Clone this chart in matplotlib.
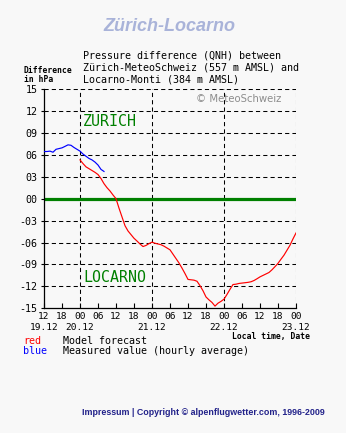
import numpy as np
import matplotlib
matplotlib.use("Agg")
import matplotlib.pyplot as plt
from matplotlib.transforms import blended_transform_factory

# ---- data (hours since 19.12 12:00 local time) ----
blue_hours = list(range(0, 21))
blue_values = [6.45, 6.45, 6.5, 6.35, 6.75, 6.85, 6.95, 7.15, 7.36, 7.3, 7.0,
               6.75, 6.5, 6.1, 5.8, 5.5, 5.3, 5.0, 4.6, 4.0, 3.72]

red_hours = list(range(12, 85))
red_values = [5.3, 4.8, 4.35, 4.1, 3.85, 3.6, 3.3, 2.75, 2.05, 1.5, 1.05, 0.5,
              0.0, -1.3, -2.5, -3.7, -4.42, -4.92, -5.42, -5.8, -6.2, -6.55, -6.4, -6.15,
              -5.95, -6.1, -6.2, -6.3, -6.5, -6.75, -7.0, -7.6, -8.2, -8.8, -9.5, -10.25,
              -11.05, -11.1, -11.15, -11.3, -11.9, -12.6, -13.45, -13.85, -14.2, -14.7, -14.3, -14.05,
              -13.75, -13.1, -12.4, -11.75, -11.7, -11.6, -11.55, -11.5, -11.45, -11.37, -11.2, -10.96,
              -10.7, -10.5, -10.3, -10.1, -9.73, -9.3, -8.85, -8.28, -7.73, -7.05, -6.37, -5.5,
              -4.7]

y_ticks = [15, 12, 9, 6, 3, 0, -3, -6, -9, -12, -15]
y_labels = ["15", "12", "09", "06", "03", "00", "-03", "-06", "-09", "-12", "-15"]
x_ticks = list(range(0, 85, 6))
x_labels = ["12", "18", "00", "06", "12", "18", "00", "06", "12", "18", "00", "06", "12", "18", "00"]
date_pos = [0, 12, 36, 60, 84]
date_labels = ["19.12", "20.12", "21.12", "22.12", "23.12"]
midnights = [12, 36, 60, 84]

W, H = 346, 433
DPI = 100
MONO = "DejaVu Sans Mono"
BG = "#f8f8f8"

def fx(x):
    return x / W

def fy(y):
    return 1 - y / H

fig = plt.figure(figsize=(W / DPI, H / DPI), dpi=DPI, facecolor=BG)
ax = fig.add_axes([fx(44), fy(308.3), 252 / W, (308.3 - 89) / H])
ax.set_facecolor(BG)
ax.set_xlim(0, 84)
ax.set_ylim(-15, 15)

# grid
for v in y_ticks:
    if v in (0, -15):
        continue
    ax.axhline(v, color="black", lw=0.75, ls=(0, (4, 3)), zorder=1)
for m in midnights:
    ax.axvline(m, color="black", lw=0.75, ls=(0, (4, 3)), zorder=1)

ax.axhline(0, color="#008000", lw=2.3, zorder=2)

ax.plot(red_hours, red_values, color="#ff0000", lw=0.85, zorder=3)
ax.plot(blue_hours, blue_values, color="#0000ff", lw=0.85, zorder=3)

for s in ("top", "right"):
    ax.spines[s].set_visible(False)
for s in ("left", "bottom"):
    ax.spines[s].set_linewidth(0.9)
    ax.spines[s].set_color("black")

ax.set_yticks(y_ticks)
ax.set_yticklabels(y_labels, fontfamily=MONO, fontsize=7.2)
ax.tick_params(axis="y", direction="out", length=2.5, width=0.8, pad=2.2)
ax.set_xticks(x_ticks)
ax.set_xticklabels(x_labels, fontfamily=MONO, fontsize=6.8)
ax.tick_params(axis="x", direction="in", length=3.6, width=0.8, pad=2.6)

tr = blended_transform_factory(ax.transData, fig.transFigure)
for p, lab in zip(date_pos, date_labels):
    ax.text(p, fy(330), lab, transform=tr, ha="center", va="baseline",
            fontfamily=MONO, fontsize=6.8, clip_on=False)

# texts
fig.text(fx(169.5), fy(30.8), "Zürich-Locarno", ha="center", va="baseline",
         fontfamily="Liberation Sans", fontsize=13, fontweight="bold",
         fontstyle="italic", color="#a9b3d9")
for i, line in enumerate(["Pressure difference (QNH) between",
                          "Zürich-MeteoSchweiz (557 m AMSL) and",
                          "Locarno-Monti (384 m AMSL)"]):
    fig.text(fx(83), fy(58.5 + 12 * i), line, ha="left", va="baseline",
             fontfamily=MONO, fontsize=7.2)
fig.text(fx(24), fy(72.7), "Difference", ha="left", va="baseline",
         fontfamily=MONO, fontsize=5.8, fontweight="bold")
fig.text(fx(24), fy(82.5), "in hPa", ha="left", va="baseline",
         fontfamily=MONO, fontsize=5.8, fontweight="bold")
fig.text(fx(196), fy(101.7), "© MeteoSchweiz", ha="left", va="baseline",
         fontfamily="DejaVu Sans", fontsize=7.3, color="#8c8c8c")
fig.text(fx(83), fy(126), "ZURICH", ha="left", va="baseline",
         fontfamily=MONO, fontsize=10.8, color="#008000")
fig.text(fx(83), fy(281.7), "LOCARNO", ha="left", va="baseline",
         fontfamily=MONO, fontsize=10.8, color="#008000")
fig.text(fx(310), fy(339.5), "Local time, Date", ha="right", va="baseline",
         fontfamily=MONO, fontsize=5.8, fontweight="bold")
fig.text(fx(23), fy(344.5), "red", ha="left", va="baseline",
         fontfamily=MONO, fontsize=7.2, color="#ff0000")
fig.text(fx(63), fy(344.5), "Model forecast", ha="left", va="baseline",
         fontfamily=MONO, fontsize=7.2)
fig.text(fx(23), fy(354.5), "blue", ha="left", va="baseline",
         fontfamily=MONO, fontsize=7.2, color="#0000ff")
fig.text(fx(63), fy(354.5), "Measured value (hourly average)", ha="left", va="baseline",
         fontfamily=MONO, fontsize=7.2)
fig.text(fx(203.5), fy(415), "Impressum | Copyright © alpenflugwetter.com, 1996-2009",
         ha="center", va="baseline", fontfamily="Liberation Sans", fontsize=6.4,
         fontweight="bold", color="#22228a")

fig.savefig("out.png", dpi=DPI, facecolor=BG)
